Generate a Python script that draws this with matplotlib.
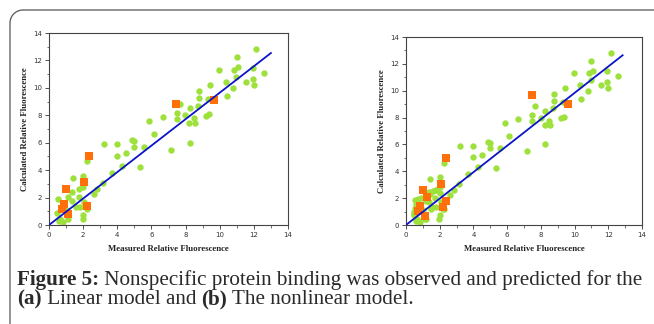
import numpy as np
import matplotlib
matplotlib.use("Agg")
import matplotlib.pyplot as plt
from matplotlib.lines import Line2D
from matplotlib.transforms import IdentityTransform

# measured vs calculated, panel (a) linear model
a_green_x = [12.15, 11.0, 11.1, 9.95, 10.85, 11.95, 12.6, 10.95, 10.35, 11.55, 11.95, 10.8,
             12.0, 9.43, 10.4, 8.76, 8.76, 9.33, 8.74, 7.67, 8.25, 7.47, 7.98, 6.65, 5.87,
             7.47, 8.5, 8.23, 8.55, 9.18, 9.38, 6.13, 4.88, 5.0, 3.2, 4.0, 5.56, 5.0, 8.25,
             7.16, 3.98, 4.49, 2.24, 5.35, 4.3, 3.69, 3.14, 1.4, 2.0, 2.0, 1.78, 1.35, 2.83,
             2.63, 0.55, 1.13, 1.73, 1.37, 2.05, 1.56, 1.79, 2.2, 1.0, 0.45, 2.0, 1.97, 0.66,
             1.13, 0.84, 0.57]
a_green_y = [12.83, 12.25, 11.5, 11.3, 11.3, 11.45, 11.1, 10.8, 10.45, 10.45, 10.65, 10.0,
             10.2, 10.2, 9.42, 9.74, 9.25, 9.18, 8.69, 8.84, 8.5, 8.2, 8.0, 7.9, 7.6, 7.72,
             7.77, 7.43, 7.43, 7.94, 8.06, 6.62, 6.2, 6.14, 5.92, 5.92, 5.72, 5.72, 6.0, 5.48,
             5.04, 5.24, 4.65, 4.26, 4.3, 3.82, 3.09, 3.46, 3.6, 2.8, 2.6, 2.43, 2.63, 2.24,
             1.87, 2.07, 2.02, 1.75, 1.7, 1.34, 1.34, 1.17, 1.1, 0.85, 0.73, 0.44, 0.41, 0.41,
             0.24, 0.3]
a_orange_x = [7.43, 9.66, 2.36, 2.05, 1.0, 2.2, 0.9, 0.74, 1.09]
a_orange_y = [8.81, 9.08, 5.02, 3.14, 2.63, 1.41, 1.53, 1.17, 0.78]
a_fit_x = [0, 13.0]
a_fit_y = [0, 12.54]

# panel (b) nonlinear model
b_green_x = a_green_x + [0.5, 0.6, 0.55, 0.7, 1.4, 1.6, 1.8, 2.0, 1.2, 1.5, 0.9, 2.25, 1.2, 0.45]
b_green_y = a_green_y + [1.0, 1.6, 1.3, 1.9, 2.3, 2.5, 2.6, 2.4, 1.8, 1.2, 2.0, 1.2, 0.45, 0.75]
b_orange_x = [7.45, 9.62, 2.38, 2.08, 1.01, 1.27, 2.38, 2.22, 0.83, 0.73, 1.13]
b_orange_y = [9.67, 9.03, 5.0, 3.09, 2.62, 2.1, 1.81, 1.34, 1.39, 1.06, 0.69]
b_fit_x = [0, 12.85]
b_fit_y = [0, 12.64]

ticks = [0, 2, 4, 6, 8, 10, 12, 14]
xlabel = "Measured Relative Fluorescence"
ylabel = "Calculated Relative Fluorescence"

W, H = 654, 324
fig = plt.figure(figsize=(W / 100, H / 100), dpi=100)
fig.patch.set_facecolor("white")

green = "#9ee03c"
orange = "#ff6f0a"
blue = "#0a14c8"


def panel(rect, gx, gy, ox, oy, fx, fy, ylab_x):
    ax = fig.add_axes(rect)
    ax.scatter(gx, gy, s=21, color=green, marker="o", linewidths=0, zorder=2)
    ax.scatter(ox, oy, s=28, color=orange, marker="s", linewidths=0, zorder=3)
    ax.plot(fx, fy, color=blue, linewidth=1.3, zorder=4)
    ax.set_xlim(0, 14)
    ax.set_ylim(0, 14)
    ax.set_xticks(ticks)
    ax.set_yticks(ticks)
    ax.set_xticks(range(1, 14, 2), minor=True)
    ax.set_yticks(range(1, 14, 2), minor=True)
    ax.tick_params(which="major", direction="out", length=3, width=0.6, labelsize=5,
                   labelcolor="#333333", color="#333333", pad=2)
    ax.tick_params(which="minor", direction="out", length=1.8, width=0.5, color="#333333")
    for sp in ax.spines.values():
        sp.set_color("#444444")
        sp.set_linewidth(0.8)
    fig.text((rect[0] + rect[2] / 2), 1 - 249 / H, xlabel, ha="center", va="center",
             fontsize=6.3, fontweight="bold", family="Liberation Serif", color="#222222")
    fig.text(ylab_x / W, rect[1] + rect[3] / 2, ylabel, ha="center", va="center",
             rotation=90, fontsize=6.3, fontweight="bold", family="Liberation Serif",
             color="#222222")
    return ax


panel([49 / W, 1 - 225 / H, 239 / W, 192 / H], a_green_x, a_green_y,
      a_orange_x, a_orange_y, a_fit_x, a_fit_y, 25)
panel([406 / W, 1 - 225 / H, 236 / W, 188 / H], b_green_x, b_green_y,
      b_orange_x, b_orange_y, b_fit_x, b_fit_y, 382)

# rounded frame around the figure (pixel coords, origin bottom-left)
r = 13
t = np.linspace(0, np.pi / 2, 20)
arc_x = 10 + r - r * np.cos(t)
arc_y = (H - 10) - r + r * np.sin(t)
bx = np.concatenate([[10], arc_x, [W + 5]])
by = np.concatenate([[-5], arc_y, [H - 10]])
fig.add_artist(Line2D(bx, by, transform=IdentityTransform(), color="#555555", linewidth=0.9))

# caption
cap_color = "#2a2a2a"
cap_size = 15.2
renderer = fig.canvas.get_renderer()


def run(parts, x0, y0):
    x = x0
    for txt, bold in parts:
        t_ = fig.text(x / W, y0 / H, txt, fontsize=cap_size, family="Liberation Serif",
                      fontweight="bold" if bold else "normal", color=cap_color,
                      ha="left", va="baseline")
        bb = t_.get_window_extent(renderer)
        x = bb.x1


run([("Figure 5:", True), (" Nonspecific protein binding was observed and predicted for the", False)],
    17, H - 285)
run([("(a)", True), (" Linear model and ", False), ("(b)", True), (" The nonlinear model.", False)],
    17, H - 304)

fig.savefig("out.png", dpi=100)
